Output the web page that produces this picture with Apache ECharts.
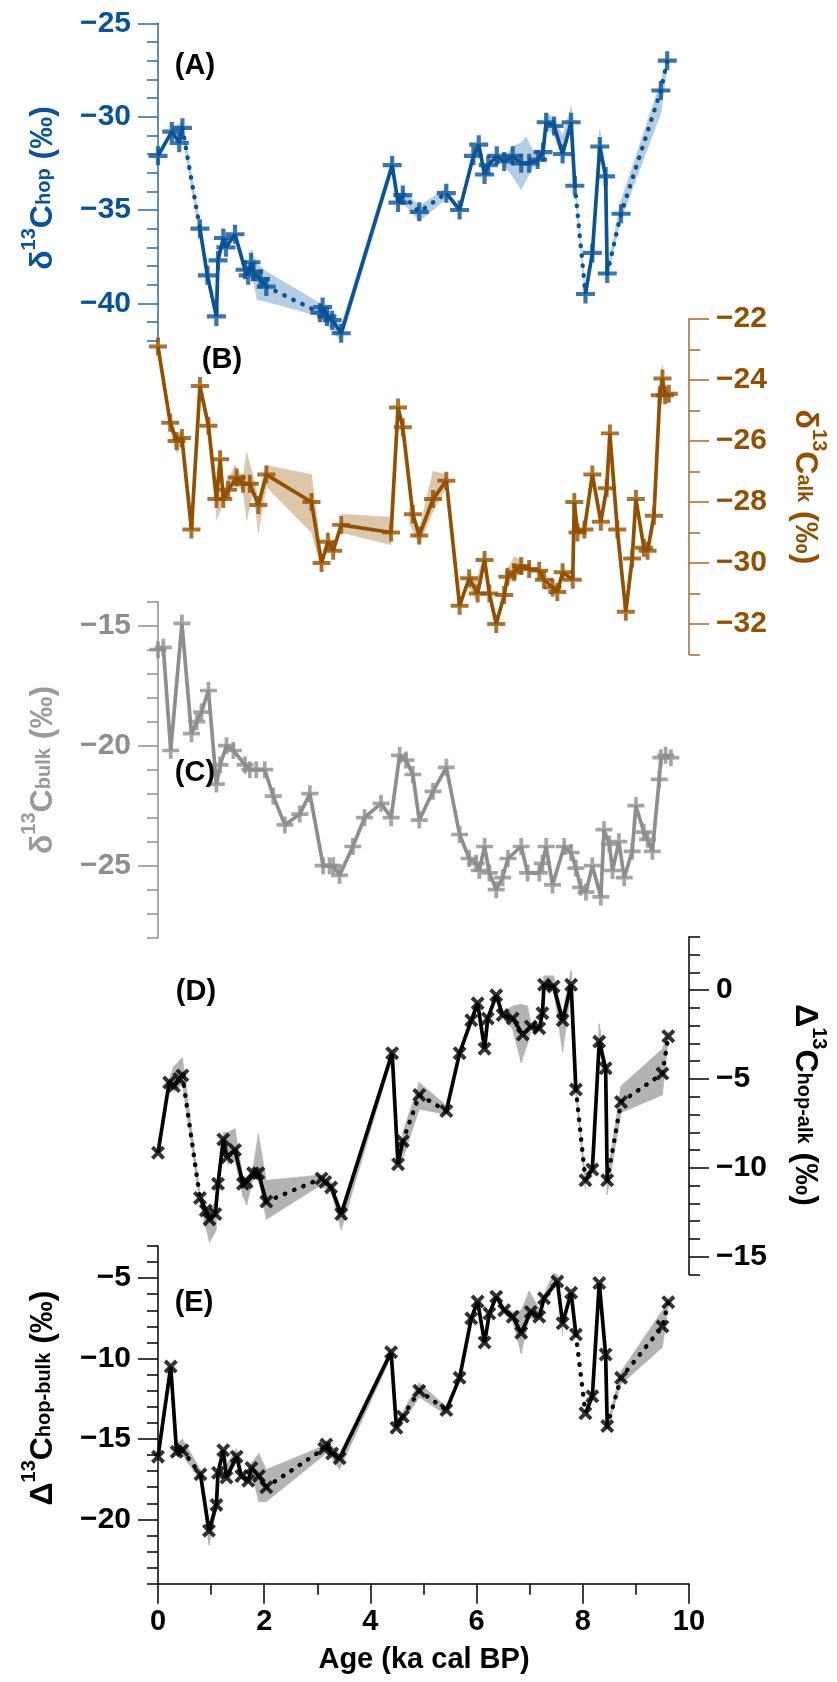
<!DOCTYPE html>
<html><head><meta charset="utf-8">
<script src="https://cdn.jsdelivr.net/npm/echarts@6/dist/echarts.min.js"></script>
<style>html,body{margin:0;padding:0;background:#fff}#c{width:837px;height:1682px}</style>
</head><body><div id="c"></div>
<script>
// ---------- DATA ----------
const ageTicks = [0, 2, 4, 6, 8, 10];
const hopTicks = [-40, -35, -30, -25];
const alkTicks = [-32, -30, -28, -26, -24, -22];
const bulkTicks = [-25, -20, -15];
const hopAlkTicks = [-15, -10, -5, 0];
const hopBulkTicks = [-20, -15, -10, -5];

// (A) d13C hop  [age ka, permil]
const hopData = [[0.00,-32.1],[0.26,-30.8],[0.40,-31.4],[0.46,-30.6],[0.79,-36.0],[0.93,-38.5],[1.10,-40.7],[1.13,-37.7],[1.23,-36.5],[1.28,-37.0],[1.45,-36.3],[1.64,-38.2],[1.70,-38.5],[1.75,-37.8],[1.80,-38.3],[1.93,-38.7],[2.04,-39.1],[3.05,-40.5],[3.10,-40.2],[3.18,-40.7],[3.28,-40.9],[3.45,-41.6],[4.41,-32.6],[4.52,-34.6],[4.61,-34.2],[4.92,-35.1],[5.43,-34.1],[5.68,-35.0],[5.94,-32.1],[6.04,-31.5],[6.15,-33.1],[6.22,-32.6],[6.38,-32.1],[6.52,-32.4],[6.68,-32.1],[6.84,-32.5],[6.99,-32.5],[7.15,-32.3],[7.25,-31.9],[7.31,-30.3],[7.46,-30.5],[7.62,-32.0],[7.78,-30.3],[7.85,-33.7],[8.05,-39.5],[8.18,-37.3],[8.32,-31.6],[8.43,-33.2],[8.46,-38.4],[8.72,-35.2],[9.47,-28.6],[9.59,-27.0]];
const hopDottedFrom = [0.46, 2.04, 4.61, 4.92, 7.85, 8.46, 8.72, 9.47];
const hopBand = [[0.26,-31.0,-30.6],[0.46,-31.0,-30.3],[0.79,-36.4,-35.7],null,
 [1.75,-38.2,-37.1],[1.87,-39.8,-37.9],[2.04,-39.9,-38.3],[3.05,-40.7,-40.0],[3.45,-42.0,-41.2],[4.41,-32.9,-32.3],[4.52,-34.8,-34.4],[4.61,-34.6,-33.9],[4.92,-35.6,-34.8],[5.43,-34.4,-33.8],null,
 [6.52,-32.6,-32.2],[6.68,-33.2,-31.6],[6.84,-33.9,-31.4],[6.93,-33.4,-31.1],[7.10,-32.5,-32.0],null,
 [7.25,-32.2,-31.6],[7.31,-30.6,-29.8],[7.46,-31.0,-30.1],[7.62,-32.3,-31.0],[7.78,-30.5,-29.5],[7.85,-33.9,-33.4],[8.05,-39.8,-39.3],null,
 [8.18,-37.5,-37.1],[8.32,-31.8,-30.7],[8.43,-33.4,-33.0],null,
 [8.46,-38.6,-38.2],[8.72,-35.5,-34.5],[9.47,-29.8,-28.1],[9.59,-27.3,-26.8]];

// (B) d13C alk
const alkData = [[0.00,-22.9],[0.23,-25.4],[0.35,-26.0],[0.45,-25.9],[0.63,-28.9],[0.79,-24.2],[0.95,-25.5],[1.10,-27.9],[1.17,-26.6],[1.23,-27.9],[1.32,-27.6],[1.48,-27.2],[1.60,-27.4],[1.73,-27.4],[1.89,-28.1],[2.04,-27.1],[2.89,-28.0],[3.08,-30.0],[3.20,-29.3],[3.30,-29.6],[3.45,-28.75],[4.39,-29.0],[4.52,-24.9],[4.61,-25.55],[4.80,-28.4],[4.92,-29.1],[5.18,-27.9],[5.43,-27.3],[5.68,-31.4],[5.86,-30.5],[6.02,-31.0],[6.15,-29.9],[6.24,-31.0],[6.37,-32.0],[6.52,-31.05],[6.58,-30.45],[6.71,-30.3],[6.84,-30.1],[6.99,-30.2],[7.18,-30.25],[7.27,-30.55],[7.43,-30.8],[7.52,-30.95],[7.62,-30.3],[7.81,-30.55],[7.84,-28.0],[7.90,-29.0],[8.03,-28.9],[8.18,-27.1],[8.34,-28.65],[8.45,-27.55],[8.51,-25.75],[8.65,-28.9],[8.81,-31.6],[8.93,-29.85],[9.00,-27.9],[9.15,-29.5],[9.22,-29.6],[9.34,-28.45],[9.45,-24.5],[9.50,-23.95],[9.55,-24.5],[9.62,-24.45]];
const alkDottedFrom = [];
const alkBand = [[0.23,-25.6,-25.2],[0.35,-26.4,-25.8],[0.45,-26.1,-25.7],null,
 [1.10,-28.6,-27.8],[1.23,-28.0,-27.6],[1.45,-27.4,-26.8],[1.60,-27.6,-27.2],[1.67,-28.6,-26.4],[1.80,-27.6,-27.2],[1.89,-29.0,-27.9],[2.04,-27.5,-26.8],[2.89,-29.0,-27.1],[3.08,-30.2,-29.7],null,
 [3.45,-29.0,-28.4],[4.39,-29.4,-28.5],null,
 [4.74,-28.7,-28.2],[4.92,-29.4,-28.9],[5.18,-28.3,-27.0],[5.43,-27.5,-27.1],null,
 [5.86,-30.8,-30.3],[5.99,-31.2,-30.6],[6.15,-30.1,-29.7],null,
 [6.52,-31.3,-30.9],[6.58,-30.7,-30.2],[6.71,-30.5,-29.8],[6.84,-30.3,-29.9],null,
 [9.45,-24.7,-24.3],[9.50,-24.2,-23.5],[9.55,-24.7,-24.3]];

// (C) d13C bulk
const bulkData = [[0.00,-16.0],[0.10,-15.9],[0.24,-20.2],[0.45,-14.9],[0.63,-19.5],[0.73,-19.0],[0.82,-18.6],[0.95,-17.7],[1.10,-21.6],[1.17,-20.8],[1.29,-20.0],[1.42,-20.2],[1.64,-20.8],[1.73,-21.0],[1.85,-21.0],[2.01,-21.0],[2.17,-22.1],[2.39,-23.3],[2.67,-22.85],[2.86,-22.0],[3.11,-25.0],[3.23,-25.0],[3.30,-25.0],[3.42,-25.4],[3.67,-24.2],[3.89,-23.0],[4.20,-22.4],[4.39,-23.0],[4.55,-20.4],[4.67,-20.6],[4.80,-21.2],[4.92,-23.1],[5.18,-21.9],[5.43,-20.9],[5.68,-23.7],[5.86,-24.7],[5.99,-24.9],[6.05,-25.2],[6.15,-24.2],[6.24,-25.3],[6.37,-26.0],[6.49,-25.5],[6.59,-24.7],[6.84,-24.2],[6.96,-25.3],[7.18,-25.3],[7.24,-24.9],[7.31,-24.2],[7.43,-25.8],[7.65,-24.2],[7.78,-24.45],[7.87,-25.1],[7.96,-25.9],[8.06,-26.1],[8.18,-25.0],[8.34,-26.3],[8.40,-23.5],[8.50,-24.1],[8.56,-25.2],[8.68,-24.0],[8.78,-25.5],[8.93,-24.4],[9.00,-22.5],[9.15,-23.6],[9.22,-23.9],[9.31,-24.4],[9.44,-21.4],[9.47,-20.5],[9.56,-20.4],[9.66,-20.5]];
const bulkDottedFrom = [];
const bulkBand = [];

// (D) Delta13C hop-alk
const hopAlkData = [[0.00,-9.15],[0.21,-5.2],[0.30,-5.4],[0.40,-5.0],[0.46,-4.8],[0.79,-11.7],[0.90,-12.4],[0.97,-12.9],[1.08,-12.6],[1.13,-10.9],[1.23,-8.4],[1.30,-9.4],[1.45,-9.0],[1.60,-10.9],[1.67,-10.8],[1.79,-10.3],[1.89,-10.3],[2.04,-11.9],[3.08,-10.6],[3.15,-10.8],[3.26,-11.1],[3.45,-12.6],[4.41,-3.55],[4.52,-9.8],[4.61,-8.5],[4.92,-5.9],[5.43,-6.8],[5.68,-3.55],[5.90,-1.7],[6.02,-0.75],[6.15,-3.3],[6.21,-1.6],[6.37,-0.3],[6.49,-1.4],[6.68,-1.6],[6.87,-2.5],[7.02,-2.05],[7.18,-2.15],[7.24,-1.3],[7.27,0.3],[7.45,0.2],[7.62,-1.7],[7.78,0.3],[7.87,-5.6],[8.05,-10.7],[8.18,-10.1],[8.31,-2.9],[8.43,-4.4],[8.46,-10.7],[8.72,-6.3],[9.50,-4.7],[9.61,-2.6]];
const hopAlkDottedFrom = [0.46, 2.04, 4.61, 4.92, 7.87, 8.46, 8.72, 9.50];
const hopAlkBand = [[0.21,-5.4,-5.0],[0.30,-5.7,-4.3],[0.46,-5.3,-3.8],[0.79,-12.0,-11.4],[0.97,-14.2,-12.5],[1.10,-13.5,-11.8],null,
 [1.23,-8.8,-8.0],[1.32,-9.8,-8.0],[1.45,-9.6,-7.8],[1.60,-11.6,-10.5],[1.67,-12.1,-10.6],[1.79,-10.6,-10.0],[1.89,-10.6,-8.1],[2.04,-12.9,-10.7],[3.05,-11.0,-10.4],[3.26,-11.3,-10.8],[3.45,-13.5,-12.3],[4.41,-3.8,-3.3],null,
 [4.61,-9.5,-8.0],[4.92,-6.7,-5.2],[5.43,-7.0,-6.5],null,
 [6.52,-1.6,-1.2],[6.68,-2.2,-0.9],[6.84,-4.1,-0.8],[6.96,-3.0,-0.9],[7.02,-2.3,-1.8],null,
 [7.24,-1.5,-1.1],[7.27,0.0,0.8],[7.45,0.0,0.8],[7.62,-3.5,-1.3],[7.78,0.0,1.1],[7.87,-5.9,-5.3],[8.05,-11.2,-10.5],null,
 [8.18,-10.3,-9.9],[8.31,-3.2,-1.9],[8.43,-4.7,-4.2],[8.46,-11.5,-10.5],[8.72,-6.9,-5.4],[9.50,-5.9,-3.3],[9.61,-2.8,-2.3]];

// (E) Delta13C hop-bulk
const hopBulkData = [[0.00,-16.1],[0.24,-10.5],[0.35,-15.8],[0.46,-15.7],[0.80,-17.2],[0.96,-20.7],[1.10,-19.1],[1.13,-17.1],[1.23,-15.7],[1.29,-17.4],[1.48,-16.1],[1.57,-17.3],[1.70,-17.6],[1.76,-16.8],[1.90,-17.3],[2.04,-18.0],[3.13,-15.6],[3.17,-15.35],[3.28,-15.9],[3.42,-16.2],[4.39,-9.6],[4.49,-14.3],[4.61,-13.6],[4.92,-12.0],[5.43,-13.2],[5.68,-11.2],[5.90,-7.5],[6.02,-6.45],[6.15,-9.0],[6.24,-7.2],[6.37,-6.15],[6.52,-7.0],[6.68,-7.4],[6.84,-8.4],[7.02,-7.1],[7.18,-7.4],[7.27,-6.25],[7.52,-5.2],[7.62,-7.8],[7.78,-5.9],[7.87,-8.5],[8.05,-13.4],[8.18,-12.35],[8.31,-5.3],[8.43,-9.75],[8.46,-14.2],[8.72,-11.2],[9.50,-8.0],[9.61,-6.5]];
const hopBulkDottedFrom = [0.46, 2.04, 4.61, 4.92, 7.87, 8.46, 8.72, 9.50];
const hopBulkBand = [[0.35,-16.0,-15.3],[0.46,-16.0,-15.0],[0.80,-17.6,-16.9],[0.96,-21.6,-20.4],[1.10,-19.4,-18.8],null,
 [1.29,-17.6,-16.6],[1.48,-16.4,-15.6],[1.57,-17.5,-17.0],null,
 [1.70,-17.8,-17.4],[1.76,-17.1,-16.5],[1.90,-18.9,-15.9],[2.04,-18.9,-16.9],[3.13,-16.0,-15.4],[3.17,-15.7,-15.1],[3.42,-16.9,-15.9],[4.39,-9.9,-9.4],null,
 [4.61,-14.0,-13.3],[4.92,-12.4,-11.5],[5.43,-13.5,-13.0],null,
 [6.52,-7.2,-6.8],[6.68,-7.7,-7.1],[6.84,-9.7,-7.0],[6.99,-7.5,-5.8],[7.18,-7.6,-6.9],null,
 [7.27,-6.4,-6.0],[7.45,-5.3,-4.7],[7.52,-5.4,-4.8],[7.62,-8.6,-7.5],null,
 [8.46,-14.4,-14.0],[8.72,-11.6,-10.8],[9.50,-9.3,-7.0],[9.61,-6.8,-6.3]];

// ---------- STYLE / BUILD ----------
const FONT = '"Liberation Sans", Arial, Helvetica, sans-serif';
const PLUS = 'path://M39,0H61V39H100V61H61V100H39V61H0V39H39Z';
const CROSS = 'path://M0,20L20,0L50,30L80,0L100,20L70,50L100,80L80,100L50,70L20,100L0,80L30,50Z';

const panels = [
  {data:hopData, dotted:hopDottedFrom, band:hopBand, ticks:hopTicks, min:-42, max:-25, side:'left',
   color:'#0a5396', band_c:'#b5cce2', axis_c:'#2d6aa3', sym:PLUS, size:19, top:23.3, height:317.4},
  {data:alkData, dotted:alkDottedFrom, band:alkBand, ticks:alkTicks, min:-33, max:-22, side:'right',
   color:'#925000', band_c:'#dcc7ab', axis_c:'#a46a2e', sym:PLUS, size:18, top:319, height:335.5},
  {data:bulkData, dotted:bulkDottedFrom, band:bulkBand, ticks:bulkTicks, min:-28, max:-14, side:'left',
   color:'#8e8e8e', band_c:'#cccccc', axis_c:'#8e8e8e', sym:PLUS, size:17, top:601.7, height:336},
  {data:hopAlkData, dotted:hopAlkDottedFrom, band:hopAlkBand, ticks:hopAlkTicks, min:-16, max:3, side:'right',
   color:'#000000', band_c:'#b3b3b3', axis_c:'#000000', sym:CROSS, size:14, top:936.7, height:337.8},
  {data:hopBulkData, dotted:hopBulkDottedFrom, band:hopBulkBand, ticks:hopBulkTicks, min:-24, max:-3, side:'left',
   color:'#000000', band_c:'#b3b3b3', axis_c:'#000000', sym:CROSS, size:14, top:1246, height:337.7}
];

function splitLine(pts, dottedFrom) {
  const solid = [], dotted = [];
  let lastS = -2, lastD = -2;
  for (let i = 0; i < pts.length - 1; i++) {
    const isDot = dottedFrom.indexOf(pts[i][0]) >= 0;
    if (isDot) {
      if (lastD !== i) { if (dotted.length) dotted.push(['-', '-']); dotted.push(pts[i]); }
      dotted.push(pts[i + 1]); lastD = i + 1;
    } else {
      if (lastS !== i) { if (solid.length) solid.push(['-', '-']); solid.push(pts[i]); }
      solid.push(pts[i + 1]); lastS = i + 1;
    }
  }
  return {solid, dotted};
}
function bandSegs(band) {
  const s = [];
  for (let i = 0; i < band.length - 1; i++) {
    const a = band[i], b = band[i + 1];
    if (a && b) s.push([a[0], a[1], a[2], b[0], b[1], b[2]]);
  }
  return s;
}
const minusRich = v => '{t|' + (v < 0 ? '\u2212' : '') + Math.abs(v) + '}';

const grid = [], xAxis = [], yAxis = [], series = [];
panels.forEach((p, i) => {
  grid.push({left:158, width:531, top:p.top, height:p.height});
  const isBottom = i === panels.length - 1;
  xAxis.push(isBottom ? {
    gridIndex:i, type:'value', min:0, max:10, interval:2, position:'bottom',
    axisLine:{show:true, onZero:false, lineStyle:{color:'#000', width:1.5}},
    axisTick:{show:true, length:20, lineStyle:{color:'#000', width:1.5}, customValues: ageTicks},
    minorTick:{show:true, splitNumber:2, length:11, lineStyle:{color:'#000', width:1.5}},
    axisLabel:{margin:22, customValues: ageTicks, formatter: minusRich,
               rich:{t:{color:'#000', fontSize:29, fontWeight:'bold', fontFamily:FONT, lineHeight:32}}},
    splitLine:{show:false}, minorSplitLine:{show:false}
  } : {gridIndex:i, type:'value', min:0, max:10, show:false});
  // minor ticks axis (every 1 unit)
  yAxis.push({
    gridIndex:i, type:'value', position:p.side, min:p.min, max:p.max, interval:1,
    axisLine:{show:true, onZero:false, lineStyle:{color:p.axis_c, width:1.5}},
    axisTick:{show:true, length:11, lineStyle:{color:p.axis_c, width:1.5}},
    axisLabel:{show:false}, splitLine:{show:false}
  });
  // major ticks + labels
  yAxis.push({
    gridIndex:i, type:'value', position:p.side, min:p.min, max:p.max,
    axisLine:{show:false, onZero:false},
    axisTick:{show:true, length:20, customValues:p.ticks, lineStyle:{color:p.axis_c, width:1.5}},
    axisLabel:{show:true, customValues:p.ticks, formatter:minusRich, margin:27,
               rich:{t:{color:p.color, fontSize:30, fontWeight:'bold', fontFamily:FONT, lineHeight:32}}},
    splitLine:{show:false}
  });
  const yi = 2 * i + 1;
  const segs = bandSegs(p.band);
  if (segs.length) {
    series.push({
      type:'custom', xAxisIndex:i, yAxisIndex:yi, data:segs, z:1, silent:true,
      encode:{x:[0, 3], y:[1, 2, 4, 5]},
      renderItem:(params, api) => ({
        type:'polygon',
        shape:{points:[api.coord([api.value(0), api.value(1)]), api.coord([api.value(3), api.value(4)]),
                       api.coord([api.value(3), api.value(5)]), api.coord([api.value(0), api.value(2)])]},
        style:{fill:p.band_c, stroke:p.band_c, lineWidth:0.6}
      })
    });
  }
  const sp = splitLine(p.data, p.dotted);
  if (sp.dotted.length) series.push({
    type:'line', xAxisIndex:i, yAxisIndex:yi, data:sp.dotted, symbol:'none', silent:true, z:2,
    connectNulls:false, lineStyle:{color:p.color, width:4.4, type:[0.5, 9.5], cap:'round'}
  });
  series.push({
    type:'line', xAxisIndex:i, yAxisIndex:yi, data:sp.solid, symbol:'none', silent:true, z:3,
    connectNulls:false, lineStyle:{color:p.color, width:3.7}
  });
  series.push({
    type:'scatter', xAxisIndex:i, yAxisIndex:yi, data:p.data, symbol:p.sym, symbolSize:p.size,
    itemStyle:{color:p.color}, silent:true, z:4
  });
});

function axisTitle(lead, sub, color, x, y, rot) {
  const base = {fontFamily:FONT, fontWeight:'bold', fill:color};
  return {
    type:'text', x:x, y:y, rotation:rot, z:100,
    style:{
      text:'{m|' + lead + '}{sup|13}{m|C}{sub|' + sub + '}{m| (\u2030)}',
      align:'center', verticalAlign:'middle',
      rich:{
        m:Object.assign({fontSize:32, lineHeight:42, verticalAlign:'bottom'}, base),
        sup:Object.assign({fontSize:20, lineHeight:20, verticalAlign:'top', padding:[2, 0, 0, 0]}, base),
        sub:Object.assign({fontSize:20, lineHeight:20, verticalAlign:'bottom', padding:[0, 0, 5, 0]}, base)
      }
    }
  };
}
function label(t, x, y, size) {
  return {type:'text', x:x, y:y, z:100,
    style:{text:t, align:'center', verticalAlign:'middle', fill:'#000', fontFamily:FONT, fontWeight:'bold', fontSize:size}};
}

const graphic = [
  axisTitle('\u03b4', 'hop', '#0a5396', 38, 188, Math.PI / 2),
  axisTitle('\u03b4', 'alk', '#925000', 810, 487, -Math.PI / 2),
  axisTitle('\u03b4', 'bulk', '#9a9a9a', 38, 770, Math.PI / 2),
  axisTitle('\u0394', 'hop-alk', '#000', 810, 1105, -Math.PI / 2),
  axisTitle('\u0394', 'hop-bulk', '#000', 38, 1398, Math.PI / 2),
  label('(A)', 195, 66, 29), label('(B)', 222, 360, 29), label('(C)', 195, 773, 29),
  label('(D)', 196, 992, 29), label('(E)', 194, 1303, 29),
  label('Age (ka cal BP)', 424, 1660, 29)
];

const chart = echarts.init(document.getElementById('c'), null, {renderer:'canvas'});
chart.setOption({animation:false, backgroundColor:'#fff', grid, xAxis, yAxis, series, graphic});
</script></body></html>
